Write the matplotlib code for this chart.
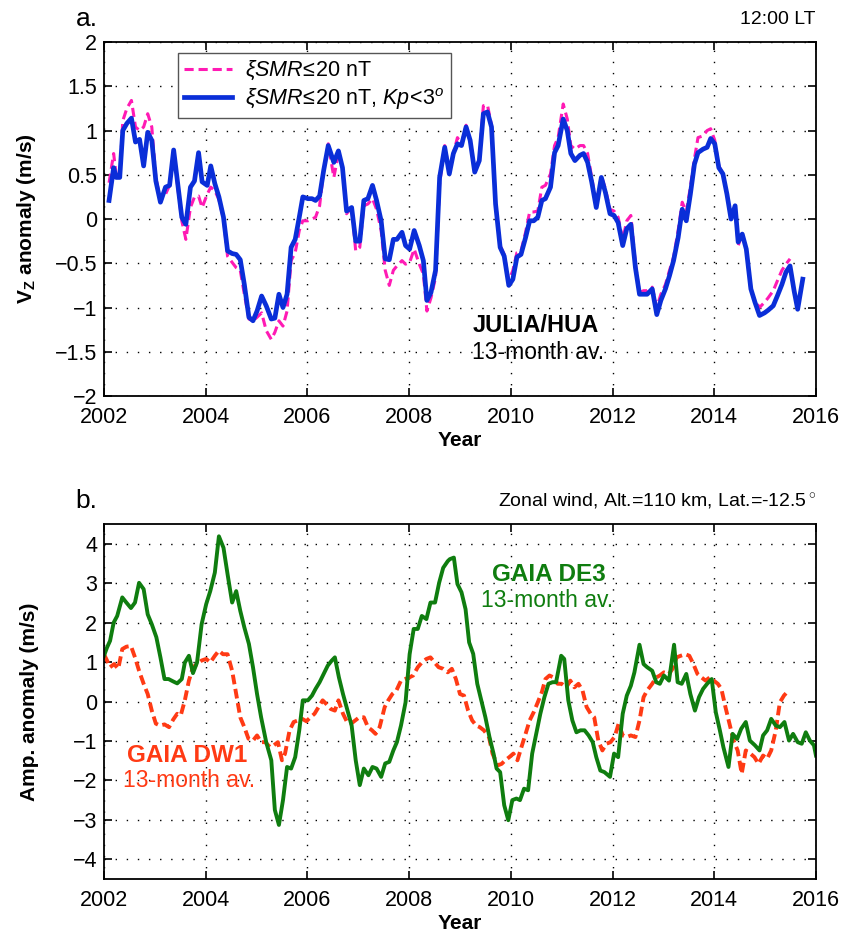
import matplotlib
matplotlib.use("Agg")
import matplotlib.pyplot as plt

plt.rcParams['font.family'] = ['Liberation Sans', 'DejaVu Sans']
plt.rcParams['mathtext.fontset'] = 'custom'
plt.rcParams['mathtext.rm'] = 'Liberation Sans'
plt.rcParams['mathtext.it'] = 'Liberation Sans:italic'
plt.rcParams['mathtext.bf'] = 'Liberation Sans:bold'
plt.rcParams['axes.unicode_minus'] = True

# ---- panel a: JULIA/HUA vertical drift anomaly, 13-month running mean ----
yr_a = [2002.10, 2002.19, 2002.24, 2002.31, 2002.37, 2002.45, 2002.54, 2002.62, 2002.70, 2002.78,
        2002.86, 2002.94, 2003.02, 2003.11, 2003.21, 2003.29, 2003.37, 2003.45, 2003.53, 2003.61,
        2003.70, 2003.78, 2003.86, 2003.93, 2004.03, 2004.10, 2004.18, 2004.26, 2004.35, 2004.43,
        2004.52, 2004.60, 2004.68, 2004.76, 2004.85, 2004.93, 2005.01, 2005.10, 2005.19, 2005.29,
        2005.36, 2005.44, 2005.52, 2005.60, 2005.68, 2005.76, 2005.84, 2005.91, 2006.01, 2006.09,
        2006.16, 2006.24, 2006.32, 2006.41, 2006.52, 2006.61, 2006.69, 2006.77, 2006.87, 2006.95,
        2007.03, 2007.11, 2007.19, 2007.28, 2007.36, 2007.45, 2007.53, 2007.61, 2007.69, 2007.76,
        2007.86, 2007.93, 2008.01, 2008.10, 2008.20, 2008.28, 2008.35, 2008.43, 2008.52, 2008.60,
        2008.70, 2008.79,
        2008.87, 2008.95, 2009.03, 2009.12, 2009.20, 2009.29, 2009.38, 2009.46, 2009.54, 2009.62,
        2009.70, 2009.79, 2009.87, 2009.96, 2010.04, 2010.12, 2010.20, 2010.29, 2010.37, 2010.45,
        2010.53, 2010.61, 2010.68, 2010.78, 2010.86, 2010.93, 2011.03, 2011.11, 2011.18, 2011.26,
        2011.36, 2011.43, 2011.51, 2011.59, 2011.68, 2011.78, 2011.86, 2011.95, 2012.03, 2012.11,
        2012.20, 2012.28, 2012.36, 2012.45, 2012.53, 2012.61, 2012.68, 2012.78, 2012.87, 2012.95,
        2013.04, 2013.12, 2013.20, 2013.29, 2013.37, 2013.45, 2013.53, 2013.61, 2013.68, 2013.78,
        2013.86, 2013.93, 2014.01, 2014.09, 2014.17, 2014.25, 2014.33, 2014.41, 2014.47, 2014.55,
        2014.63, 2014.72, 2014.80, 2014.89, 2014.99, 2015.06, 2015.16, 2015.24, 2015.33, 2015.41,
        2015.49, 2015.57, 2015.64, 2015.74]

vz_kp = [0.21, 0.58, 0.47, 0.47, 1.00, 1.08, 1.14, 0.87, 0.90, 0.60,
         0.98, 0.89, 0.43, 0.19, 0.36, 0.38, 0.78, 0.40, 0.02, -0.06,
         0.36, 0.43, 0.75, 0.42, 0.38, 0.60, 0.40, 0.25, 0.02, -0.36,
         -0.39, -0.40, -0.46, -0.74, -1.11, -1.15, -1.04, -0.87, -0.98, -1.13,
         -1.12, -0.85, -1.00, -0.85, -0.32, -0.23, 0.02, 0.25, 0.23, 0.23,
         0.21, 0.26, 0.55, 0.83, 0.64, 0.77, 0.58, 0.09, 0.13, -0.25,
         -0.25, 0.21, 0.23, 0.38, 0.21, -0.02, -0.45, -0.46, -0.23, -0.23,
         -0.15, -0.30, -0.34, -0.13, -0.30, -0.47, -0.92, -0.83, -0.58, 0.47,
         0.81, 0.51,
         0.74, 0.85, 0.83, 1.04, 0.89, 0.53, 0.66, 1.19, 1.21, 1.04,
         0.17, -0.32, -0.42, -0.75, -0.68, -0.43, -0.40, -0.21, -0.02, -0.02,
         0.02, 0.21, 0.23, 0.36, 0.75, 0.83, 1.13, 1.00, 0.74, 0.66,
         0.72, 0.74, 0.64, 0.42, 0.13, 0.47, 0.30, 0.06, 0.04, -0.04,
         -0.30, -0.11, -0.06, -0.55, -0.85, -0.85, -0.85, -0.79, -1.08, -0.92,
         -0.79, -0.64, -0.47, -0.21, 0.11, -0.02, 0.28, 0.62, 0.75, 0.79,
         0.81, 0.91, 0.85, 0.58, 0.51, 0.28, 0.00, 0.15, -0.26, -0.17,
         -0.34, -0.79, -0.94, -1.09, -1.06, -1.03, -0.98, -0.87, -0.74, -0.60,
         -0.53, -0.81, -1.02, -0.68]

vz_smr = [0.41, 0.74, 0.50, 0.48, 1.11, 1.25, 1.34, 1.04, 1.00, 1.04,
          1.19, 1.04, 0.47, 0.21, 0.28, 0.38, 0.78, 0.36, -0.02, -0.23,
          0.13, 0.25, 0.26, 0.13, 0.28, 0.36, 0.32, 0.22, 0.00, -0.42,
          -0.49, -0.55, -0.58, -0.85, -1.13, -1.15, -1.11, -1.06, -1.26, -1.36,
          -1.28, -1.15, -1.21, -1.04, -0.47, -0.38, -0.13, -0.02, -0.02, 0.00,
          0.02, 0.15, 0.55, 0.85, 0.47, 0.74, 0.58, 0.06, 0.13, -0.36,
          -0.32, 0.15, 0.17, 0.23, 0.11, -0.13, -0.58, -0.75, -0.58, -0.53,
          -0.47, -0.51, -0.49, -0.34, -0.51, -0.62, -1.04, -0.89, -0.66, 0.40,
          0.83, 0.55,
          0.74, 0.92, 0.85, 1.06, 0.89, 0.53, 0.68, 1.28, 1.29, 1.06,
          0.19, -0.30, -0.40, -0.70, -0.58, -0.38, -0.36, -0.15, 0.08, 0.08,
          0.09, 0.36, 0.38, 0.51, 0.83, 0.92, 1.30, 1.13, 0.83, 0.79,
          0.83, 0.83, 0.74, 0.47, 0.17, 0.49, 0.34, 0.11, 0.09, 0.02,
          -0.23, -0.02, 0.04, -0.51, -0.83, -0.81, -0.81, -0.77, -1.00, -0.85,
          -0.74, -0.58, -0.43, -0.13, 0.19, 0.08, 0.36, 0.68, 0.92, 0.94,
          1.00, 1.02, 0.89, 0.60, 0.51, 0.28, 0.00, 0.15, -0.30, -0.17,
          -0.34, -0.81, -0.92, -1.00, -0.94, -0.89, -0.81, -0.70, -0.58, -0.51,
          -0.45]

# ---- panel b: GAIA tidal amplitude anomalies, zonal wind 110 km ----
yr_de3 = [2002.00, 2002.06, 2002.12, 2002.19, 2002.26, 2002.36, 2002.44, 2002.53, 2002.61, 2002.69,
          2002.78, 2002.86, 2002.94, 2003.03, 2003.11, 2003.19, 2003.27, 2003.36, 2003.44, 2003.53,
          2003.59, 2003.67, 2003.75, 2003.83, 2003.92, 2004.01, 2004.09, 2004.18, 2004.26, 2004.35,
          2004.43, 2004.52, 2004.60, 2004.68, 2004.76, 2004.85, 2004.93, 2005.01, 2005.09, 2005.19,
          2005.29, 2005.36, 2005.44, 2005.52, 2005.60, 2005.68, 2005.76, 2005.84, 2005.91, 2006.01,
          2006.09, 2006.16, 2006.24, 2006.32, 2006.40, 2006.48, 2006.54, 2006.62, 2006.70, 2006.79,
          2006.87, 2006.95, 2007.03, 2007.11, 2007.20, 2007.28, 2007.36, 2007.45, 2007.53, 2007.61,
          2007.69, 2007.76, 2007.84, 2007.93, 2008.01, 2008.09, 2008.17, 2008.25, 2008.34, 2008.42,
          2008.51, 2008.59, 2008.67, 2008.76,
          2008.80, 2008.88, 2008.95, 2009.03, 2009.11, 2009.18, 2009.26, 2009.34, 2009.42, 2009.50,
          2009.58, 2009.66, 2009.72, 2009.79, 2009.87, 2009.95, 2010.03, 2010.11, 2010.18, 2010.26,
          2010.34, 2010.42, 2010.50, 2010.58, 2010.66, 2010.74, 2010.82, 2010.89, 2010.99, 2011.05,
          2011.13, 2011.21, 2011.29, 2011.37, 2011.45, 2011.53, 2011.61, 2011.68, 2011.76, 2011.84,
          2011.95, 2012.03, 2012.11, 2012.20, 2012.28, 2012.36, 2012.43, 2012.53, 2012.61, 2012.68,
          2012.78, 2012.86, 2012.93, 2013.01, 2013.11, 2013.21, 2013.28, 2013.36, 2013.45, 2013.53,
          2013.62, 2013.70, 2013.78, 2013.86, 2013.95, 2014.03, 2014.11, 2014.18, 2014.28, 2014.36,
          2014.45, 2014.53, 2014.62, 2014.70, 2014.80, 2014.89, 2014.96, 2015.04, 2015.12, 2015.21,
          2015.29, 2015.38, 2015.47, 2015.55, 2015.64, 2015.72, 2015.80, 2015.88, 2015.96, 2016.00]

de3 = [1.16, 1.37, 1.54, 2.00, 2.17, 2.64, 2.51, 2.37, 2.51, 3.01,
       2.85, 2.21, 1.96, 1.63, 1.12, 0.57, 0.57, 0.51, 0.46, 0.57,
       0.99, 1.16, 0.72, 0.99, 1.96, 2.47, 2.80, 3.27, 4.19, 3.90,
       3.23, 2.51, 2.80, 2.30, 1.88, 1.46, 0.87, 0.19, -0.40, -1.03,
       -1.49, -2.75, -3.13, -2.50, -1.66, -1.70, -1.41, -0.73, 0.03, 0.03,
       0.15, 0.32, 0.49, 0.70, 0.91, 1.04, 1.12, 0.61, 0.19, -0.23,
       -0.61, -1.49, -2.12, -1.70, -1.87, -1.66, -1.70, -1.91, -1.57, -1.53,
       -1.24, -1.03, -0.61, -0.02, 1.20, 1.84, 1.84, 2.17, 2.09, 2.51,
       2.51, 3.01, 3.39, 3.56,
       3.61, 3.65, 2.98, 2.77, 2.34, 1.50, 1.21, 0.45, 0.03, -0.40,
       -0.90, -1.32, -1.70, -1.79, -2.63, -3.01, -2.50, -2.46, -2.50, -2.21,
       -2.25, -1.32, -0.82, -0.31, 0.11, 0.45, 0.49, 0.49, 1.16, 1.08,
       0.03, -0.48, -0.78, -0.73, -0.73, -0.86, -1.03, -1.41, -1.75, -1.79,
       -1.91, -1.32, -1.41, -0.31, 0.15, 0.40, 0.74, 1.44, 0.95, 0.87,
       0.78, 0.49, 0.45, 0.66, 0.53, 1.44, 0.49, 0.45, 0.70, 0.19,
       -0.23, 0.11, 0.32, 0.45, 0.57, -0.27, -0.73, -1.16, -1.66, -0.82,
       -0.95, -0.69, -0.52, -0.99, -1.11, -1.24, -0.86, -0.73, -0.44, -0.61,
       -0.65, -0.52, -0.99, -0.82, -1.03, -1.07, -0.78, -0.99, -1.11, -1.37]

yr_dw1 = [2002.00, 2002.06, 2002.12, 2002.20, 2002.28, 2002.36, 2002.44, 2002.53, 2002.61, 2002.69,
          2002.78, 2002.86, 2002.94, 2003.02, 2003.10, 2003.19, 2003.28, 2003.36, 2003.44, 2003.51,
          2003.59, 2003.67, 2003.75, 2003.83, 2003.92, 2004.01, 2004.09, 2004.18, 2004.26, 2004.34,
          2004.43, 2004.52, 2004.60, 2004.68, 2004.76, 2004.84, 2004.93, 2005.01, 2005.09, 2005.17,
          2005.26, 2005.34, 2005.42, 2005.50, 2005.56, 2005.65, 2005.73, 2005.81, 2005.90, 2005.98,
          2006.06, 2006.14, 2006.22, 2006.30, 2006.37, 2006.46, 2006.54, 2006.61, 2006.70, 2006.78,
          2006.86, 2006.94, 2007.02, 2007.11, 2007.19, 2007.27, 2007.34, 2007.42, 2007.52, 2007.59,
          2007.67, 2007.75, 2007.84, 2007.92, 2008.00, 2008.08, 2008.17, 2008.25, 2008.34, 2008.42,
          2008.50, 2008.58, 2008.67, 2008.76,
          2008.84, 2008.92, 2009.00, 2009.08, 2009.16, 2009.24, 2009.32, 2009.39, 2009.47, 2009.57,
          2009.64, 2009.74, 2009.82, 2009.89, 2009.97, 2010.05, 2010.13, 2010.21, 2010.29, 2010.37,
          2010.45, 2010.53, 2010.61, 2010.68, 2010.76, 2010.84, 2010.92, 2011.00, 2011.09, 2011.17,
          2011.25, 2011.33, 2011.41, 2011.49, 2011.57, 2011.64, 2011.72, 2011.80, 2011.88, 2011.96,
          2012.04, 2012.12, 2012.20, 2012.28, 2012.36, 2012.45, 2012.53, 2012.61, 2012.68, 2012.78,
          2012.86, 2012.93, 2013.01, 2013.11, 2013.18, 2013.26, 2013.34, 2013.43, 2013.51, 2013.59,
          2013.67, 2013.75, 2013.83, 2013.91, 2013.99, 2014.07, 2014.14, 2014.22, 2014.30, 2014.38,
          2014.46, 2014.54, 2014.62, 2014.71, 2014.79, 2014.87, 2014.96, 2015.04, 2015.12, 2015.21,
          2015.29, 2015.37, 2015.46]

dw1 = [1.20, 1.04, 0.87, 0.95, 0.83, 1.33, 1.39, 1.41, 1.12, 0.78,
       0.45, 0.19, -0.23, -0.56, -0.61, -0.58, -0.65, -0.46, -0.31, -0.35,
       0.03, 0.53, 0.87, 0.95, 1.04, 1.08, 0.99, 1.16, 1.29, 1.20,
       1.20, 0.78, 0.19, -0.40, -0.65, -0.94, -0.99, -0.86, -1.03, -1.03,
       -1.15, -1.11, -1.03, -1.49, -1.32, -0.73, -0.52, -0.48, -0.44, -0.50,
       -0.40, -0.31, -0.14, 0.03, -0.06, -0.19, -0.23, 0.03, -0.31, -0.52,
       -0.56, -0.48, -0.40, -0.40, -0.65, -0.73, -0.82, -0.65, -0.14, 0.03,
       0.19, 0.28, 0.53, 0.57, 0.61, 0.66, 0.87, 0.99, 1.08, 1.12,
       0.99, 0.87, 0.83, 0.74,
       0.83, 0.57, 0.19, 0.15, -0.23, -0.48, -0.61, -0.65, -0.73, -0.90,
       -1.32, -1.62, -1.58, -1.49, -1.41, -1.32, -1.49, -1.15, -0.82, -0.48,
       -0.27, -0.02, 0.24, 0.57, 0.66, 0.61, 0.45, 0.45, 0.36, 0.53,
       0.36, 0.45, 0.28, -0.14, -0.31, -0.40, -0.99, -1.24, -1.07, -1.03,
       -0.90, -0.56, -0.86, -0.90, -0.86, -0.90, -0.48, 0.11, 0.28, 0.45,
       0.61, 0.66, 0.74, 0.70, 0.83, 1.12, 1.16, 1.20, 1.16, 0.95,
       0.70, 0.61, 0.53, 0.61, 0.53, 0.45, 0.32, -0.14, -0.56, -0.99,
       -1.24, -1.83, -1.24, -1.32, -1.41, -1.58, -1.37, -1.45, -1.24, -0.73,
       -0.02, 0.15, 0.28]

year_ticks = list(range(2002, 2017, 2))

pink = '#ff1ab4'
blue = '#0a2ed8'
green = '#0f7d0f'
orange = '#ff3a14'

fig = plt.figure(figsize=(8.46, 9.34), dpi=100)
ax1 = fig.add_axes([0.1229, 0.576, 0.8416, 0.379])
ax2 = fig.add_axes([0.1229, 0.0589, 0.8416, 0.380])


def style_axes(ax):
    ax.set_xlim(2002, 2016)
    ax.set_xticks(year_ticks)
    ax.grid(True, linestyle=(0, (1, 7)), color='black', linewidth=1.0)
    ax.tick_params(direction='in', length=6, width=1.2, top=True, right=True,
                   labelsize=15.5)
    ax.tick_params(axis='x', pad=8)
    ax.tick_params(axis='y', pad=5)
    for s in ax.spines.values():
        s.set_linewidth(1.3)
    ax.set_xlabel('Year', fontsize=15, fontweight='bold', labelpad=2)


# panel a
ax1.plot(yr_a[:len(vz_smr)], vz_smr, color=pink, lw=2.2, dashes=(3, 1.6),
         label=r'$\xi SMR\!\leq\!$20 nT')
ax1.plot(yr_a, vz_kp, color=blue, lw=3.4,
         label=r'$\xi SMR\!\leq\!$20 nT, $Kp\!<\!3^o$')
style_axes(ax1)
ax1.set_ylim(-2, 2)
ax1.set_yticks([-2, -1.5, -1, -0.5, 0, 0.5, 1, 1.5, 2])
ax1.set_yticklabels(['\u22122', '\u22121.5', '\u22121', '\u22120.5', '0', '0.5', '1', '1.5', '2'])
ax1.set_ylabel(r'V$_\mathbf{Z}$ anomaly (m/s)', fontsize=15, fontweight='bold', labelpad=12)
leg = ax1.legend(loc='upper left', bbox_to_anchor=(0.104, 0.97), borderaxespad=0,
                 fontsize=15.5, fancybox=False, framealpha=1, handlelength=2.2,
                 borderpad=0.3, labelspacing=0.15, handletextpad=0.6)
leg.get_frame().set_edgecolor('#555555')
leg.get_frame().set_linewidth(1.0)
ax1.text(2009.24, -1.2, 'JULIA/HUA', fontsize=17, fontweight='bold', va='center')
ax1.text(2009.24, -1.51, '13-month av.', fontsize=16.5, va='center')
ax1.text(-0.04, 1.03, 'a.', transform=ax1.transAxes, fontsize=19, ha='left', va='bottom')
ax1.text(1.0, 1.04, '12:00 LT', transform=ax1.transAxes, fontsize=14, ha='right', va='bottom')

# panel b
ax2.plot(yr_dw1, dw1, color=orange, lw=2.8, dashes=(2.5, 1.2))
ax2.plot(yr_de3, de3, color=green, lw=2.8)
style_axes(ax2)
ax2.set_ylim(-4.5, 4.5)
ax2.set_yticks([-4, -3, -2, -1, 0, 1, 2, 3, 4])
ax2.set_yticklabels(['\u22124', '\u22123', '\u22122', '\u22121', '0', '1', '2', '3', '4'])
ax2.set_ylabel('Amp. anomaly (m/s)', fontsize=15, fontweight='bold', labelpad=24)
ax2.text(2009.63, 3.23, 'GAIA DE3', fontsize=17.5, fontweight='bold', color=green, va='center')
ax2.text(2009.41, 2.55, '13-month av.', fontsize=16.5, color=green, va='center')
ax2.text(2002.45, -1.37, 'GAIA DW1', fontsize=17.5, fontweight='bold', color=orange, va='center')
ax2.text(2002.37, -2.0, '13-month av.', fontsize=16.5, color=orange, va='center')
ax2.text(-0.04, 1.03, 'b.', transform=ax2.transAxes, fontsize=19, ha='left', va='bottom')
ax2.text(1.0, 1.035, 'Zonal wind, Alt.=110 km, Lat.=-12.5$^\\circ$', transform=ax2.transAxes,
         fontsize=14, ha='right', va='bottom')

fig.savefig('out.png', dpi=100)
